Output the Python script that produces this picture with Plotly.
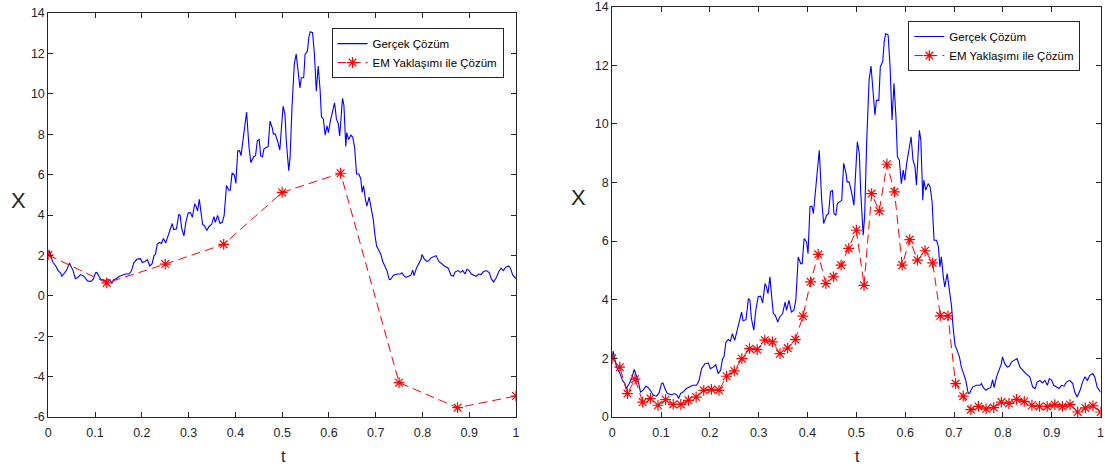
import plotly.graph_objects as go

# Exact solution sampled on a fine grid (same path in both panels)
t_exact = [0.000, 0.002, 0.005, 0.009, 0.016, 0.021, 0.026, 0.029, 0.035, 0.040,
           0.045, 0.050, 0.053, 0.058, 0.063, 0.069, 0.074, 0.078, 0.084, 0.091,
           0.096, 0.101, 0.104, 0.108, 0.113, 0.122, 0.128, 0.133, 0.136, 0.140,
           0.145, 0.152, 0.159, 0.165, 0.173, 0.178, 0.183, 0.190, 0.197, 0.201,
           0.207, 0.212, 0.217, 0.222, 0.226, 0.229, 0.233, 0.238, 0.242, 0.246,
           0.251, 0.255, 0.260, 0.265, 0.268, 0.274, 0.279, 0.282, 0.285, 0.290,
           0.294, 0.299, 0.304, 0.308, 0.313, 0.316, 0.319, 0.323, 0.326, 0.330,
           0.334, 0.339, 0.343, 0.349, 0.354, 0.357, 0.362, 0.367, 0.372, 0.376,
           0.381, 0.386, 0.389, 0.393, 0.398, 0.401, 0.405, 0.409, 0.412, 0.415,
           0.420, 0.424, 0.429, 0.433, 0.439, 0.443, 0.447, 0.451, 0.454, 0.458,
           0.461, 0.465, 0.470, 0.474, 0.479, 0.481, 0.485, 0.490, 0.495, 0.498,
           0.502, 0.506, 0.509, 0.514, 0.517, 0.521, 0.526, 0.530, 0.534, 0.538,
           0.541, 0.546, 0.549, 0.554, 0.557, 0.560, 0.565, 0.569, 0.573, 0.577,
           0.581, 0.584, 0.588, 0.592, 0.596, 0.599, 0.603, 0.608, 0.612, 0.616,
           0.620, 0.623, 0.627, 0.629, 0.632, 0.636, 0.638, 0.642, 0.647, 0.651,
           0.655, 0.659, 0.664, 0.668, 0.671, 0.674, 0.678, 0.681, 0.686, 0.690,
           0.695, 0.698, 0.702, 0.705, 0.711, 0.715, 0.720, 0.724, 0.729, 0.732,
           0.738, 0.746, 0.753, 0.756, 0.760, 0.765, 0.770, 0.775, 0.779, 0.782,
           0.787, 0.792, 0.797, 0.799, 0.804, 0.809, 0.813, 0.818, 0.823, 0.829,
           0.835, 0.840, 0.847, 0.855, 0.861, 0.866, 0.870, 0.876, 0.881, 0.886,
           0.891, 0.895, 0.900, 0.904, 0.910, 0.915, 0.920, 0.925, 0.930, 0.937,
           0.943, 0.947, 0.952, 0.958, 0.963, 0.968, 0.973, 0.978, 0.984, 0.988,
           0.993, 1.000]
x_exact = [2.00, 2.25, 2.00, 1.70, 1.48, 1.25, 1.14, 0.97, 1.14, 1.31,
           1.62, 1.42, 1.25, 0.85, 0.91, 1.05, 1.00, 0.91, 0.74, 0.71,
           0.82, 1.14, 1.16, 0.97, 0.80, 0.76, 0.80, 0.74, 0.63, 0.80,
           0.85, 0.97, 1.02, 1.08, 1.08, 1.25, 1.65, 1.82, 1.84, 1.65,
           1.70, 1.79, 1.48, 1.59, 1.99, 2.05, 2.56, 2.64, 2.59, 2.84,
           2.62, 2.90, 3.30, 3.58, 3.28, 3.32, 4.04, 3.98, 3.36, 2.96,
           3.64, 4.10, 4.12, 3.89, 4.55, 4.44, 4.21, 4.78, 4.21, 3.53,
           3.47, 3.24, 3.41, 3.53, 3.92, 3.64, 3.98, 3.58, 3.64, 3.98,
           5.46, 5.23, 5.23, 6.09, 5.97, 5.57, 7.17, 7.19, 6.94, 7.51,
           8.25, 9.10, 7.39, 6.60, 6.88, 6.94, 7.68, 7.74, 6.94, 6.88,
           7.28, 7.34, 7.39, 8.65, 8.30, 8.02, 8.02, 7.68, 7.22, 8.19,
           9.39, 8.99, 7.62, 6.20, 6.88, 9.33, 11.49, 11.97, 11.20, 10.30,
           10.80, 10.80, 11.95, 12.12, 12.80, 13.08, 13.03, 11.95, 10.13, 11.38,
           10.24, 8.87, 8.76, 7.96, 8.42, 8.08, 8.65, 9.20, 9.56, 8.76,
           8.53, 7.91, 9.33, 9.78, 9.44, 7.39, 8.08, 7.74, 7.96, 7.85,
           7.34, 6.03, 6.03, 5.80, 5.12, 5.46, 4.78, 4.44, 4.89, 4.44,
           3.75, 3.07, 2.45, 2.33, 2.05, 1.70, 1.48, 1.25, 0.80, 0.82,
           1.02, 1.08, 1.08, 1.14, 1.00, 0.91, 0.97, 1.00, 1.27, 1.00,
           1.37, 1.60, 1.82, 2.05, 1.82, 1.70, 1.73, 1.88, 1.93, 1.99,
           1.70, 1.60, 1.48, 1.37, 1.02, 0.97, 1.19, 1.25, 1.16, 1.25,
           1.08, 1.31, 1.25, 1.08, 1.02, 0.97, 1.08, 1.05, 1.19, 1.25,
           1.14, 0.85, 0.68, 0.91, 1.19, 1.37, 1.25, 1.42, 1.48, 1.37,
           1.02, 0.85]

# Euler-Maruyama approximation, coarse step dt = 1/8
t_em_coarse = [0.000, 0.125, 0.250, 0.375, 0.500, 0.625, 0.750, 0.875, 1.000]
x_em_coarse = [2.02, 0.64, 1.57, 2.55, 5.12, 6.07, -4.30, -5.54, -4.96]

# Euler-Maruyama approximation, fine step dt = 1/64
t_em_fine = [k / 64 for k in range(65)]
x_em_fine = [2.00, 1.70, 0.80, 1.29, 0.51, 0.63, 0.40, 0.59, 0.43, 0.43,
             0.57, 0.68, 0.91, 0.94, 0.91, 1.39, 1.57, 1.99, 2.33, 2.30,
             2.62, 2.56, 2.16, 2.35, 2.64, 3.44, 4.61, 5.55, 4.55, 4.78,
             5.18, 5.75, 6.37, 4.49, 7.62, 7.03, 8.62, 7.68, 5.18, 6.05,
             5.35, 5.67, 5.26, 3.45, 3.45, 1.14, 0.71, 0.25, 0.36, 0.28,
             0.32, 0.51, 0.46, 0.60, 0.53, 0.40, 0.36, 0.36, 0.42, 0.36,
             0.42, 0.17, 0.31, 0.38, 0.17]

# Tick labels
y_ticks_left = [-6, -4, -2, 0, 2, 4, 6, 8, 10, 12, 14]
y_ticktext_left = ["-6", "-4", "-2", "0", "2", "4", "6", "8", "10", "12", "14"]
y_ticks_right = [0, 2, 4, 6, 8, 10, 12, 14]
t_ticks = [0, 0.1, 0.2, 0.3, 0.4, 0.5, 0.6, 0.7, 0.8, 0.9, 1]
t_ticktext = ["0", "0.1", "0.2", "0.3", "0.4", "0.5", "0.6", "0.7", "0.8", "0.9", "1"]

NAME_EXACT = "Gerçek Çözüm"
NAME_EM = "EM Yaklaşımı ile Çözüm"

AX_COLOR = "#262626"
FONT = "Liberation Sans, Arial, sans-serif"

fig = go.Figure()

panels = [
    ("x", "y", "legend", t_em_coarse, x_em_coarse),
    ("x2", "y2", "legend2", t_em_fine, x_em_fine),
]
for xa, ya, lg, te, xe in panels:
    fig.add_trace(go.Scatter(
        x=t_exact, y=x_exact, mode="lines", name=NAME_EXACT,
        line=dict(color="#0000ff", width=1.1), xaxis=xa, yaxis=ya, legend=lg,
    ))
    fig.add_trace(go.Scatter(
        x=te, y=xe, mode="lines+markers", name=NAME_EM,
        line=dict(color="#ff0000", width=1, dash="9px,5px"),
        marker=dict(symbol="asterisk-open", size=9,
                    line=dict(color="#ff0000", width=1.2)),
        xaxis=xa, yaxis=ya, legend=lg,
    ))

axis_common = dict(
    showline=True, linecolor=AX_COLOR, linewidth=1, mirror="ticks",
    ticks="inside", ticklen=5, tickcolor=AX_COLOR, tickwidth=1,
    showgrid=False, zeroline=False, automargin=False,
    ticklabeloverflow="allow",
    tickfont=dict(family=FONT, size=12.5, color=AX_COLOR),
)
x_extra = dict(ticklabelstandoff=4)

legend_common = dict(
    xanchor="left", yanchor="top",
    bgcolor="white", bordercolor="#262626", borderwidth=1,
    font=dict(family=FONT, size=11.5, color="#000000"),
    itemwidth=30, tracegroupgap=0,
)

fig.update_layout(
    width=1105, height=468,
    margin=dict(l=0, r=0, t=0, b=0, autoexpand=False),
    paper_bgcolor="white", plot_bgcolor="white",
    font=dict(family=FONT, color=AX_COLOR),
    xaxis=dict(domain=[0.0437, 0.467], range=[0, 1], tickvals=t_ticks,
               ticktext=t_ticktext, anchor="y", **axis_common, **x_extra),
    yaxis=dict(domain=[0.109, 0.972], range=[-6, 14], tickvals=y_ticks_left,
               ticktext=y_ticktext_left, anchor="x", **axis_common),
    xaxis2=dict(domain=[0.554, 0.996], range=[0, 1], tickvals=t_ticks,
                ticktext=t_ticktext, anchor="y2", **axis_common, **x_extra),
    yaxis2=dict(domain=[0.109, 0.986], range=[0, 14], tickvals=y_ticks_right,
                anchor="x2", **axis_common),
    legend=dict(x=0.300, y=0.940, **legend_common),
    legend2=dict(x=0.822, y=0.955, **legend_common),
)

# Axis labels
labels = [
    ("X", 18 / 1105, 1 - 200 / 468, 22),
    ("X", 578 / 1105, 1 - 197 / 468, 22),
    ("t", 283 / 1105, 1 - 456 / 468, 16),
    ("t", 857 / 1105, 1 - 456 / 468, 16),
]
for txt, x, y, sz in labels:
    fig.add_annotation(text=txt, x=x, y=y, xref="paper", yref="paper",
                       showarrow=False, xanchor="center", yanchor="middle",
                       font=dict(family=FONT, size=sz, color=AX_COLOR))

fig.write_html("out.html")
